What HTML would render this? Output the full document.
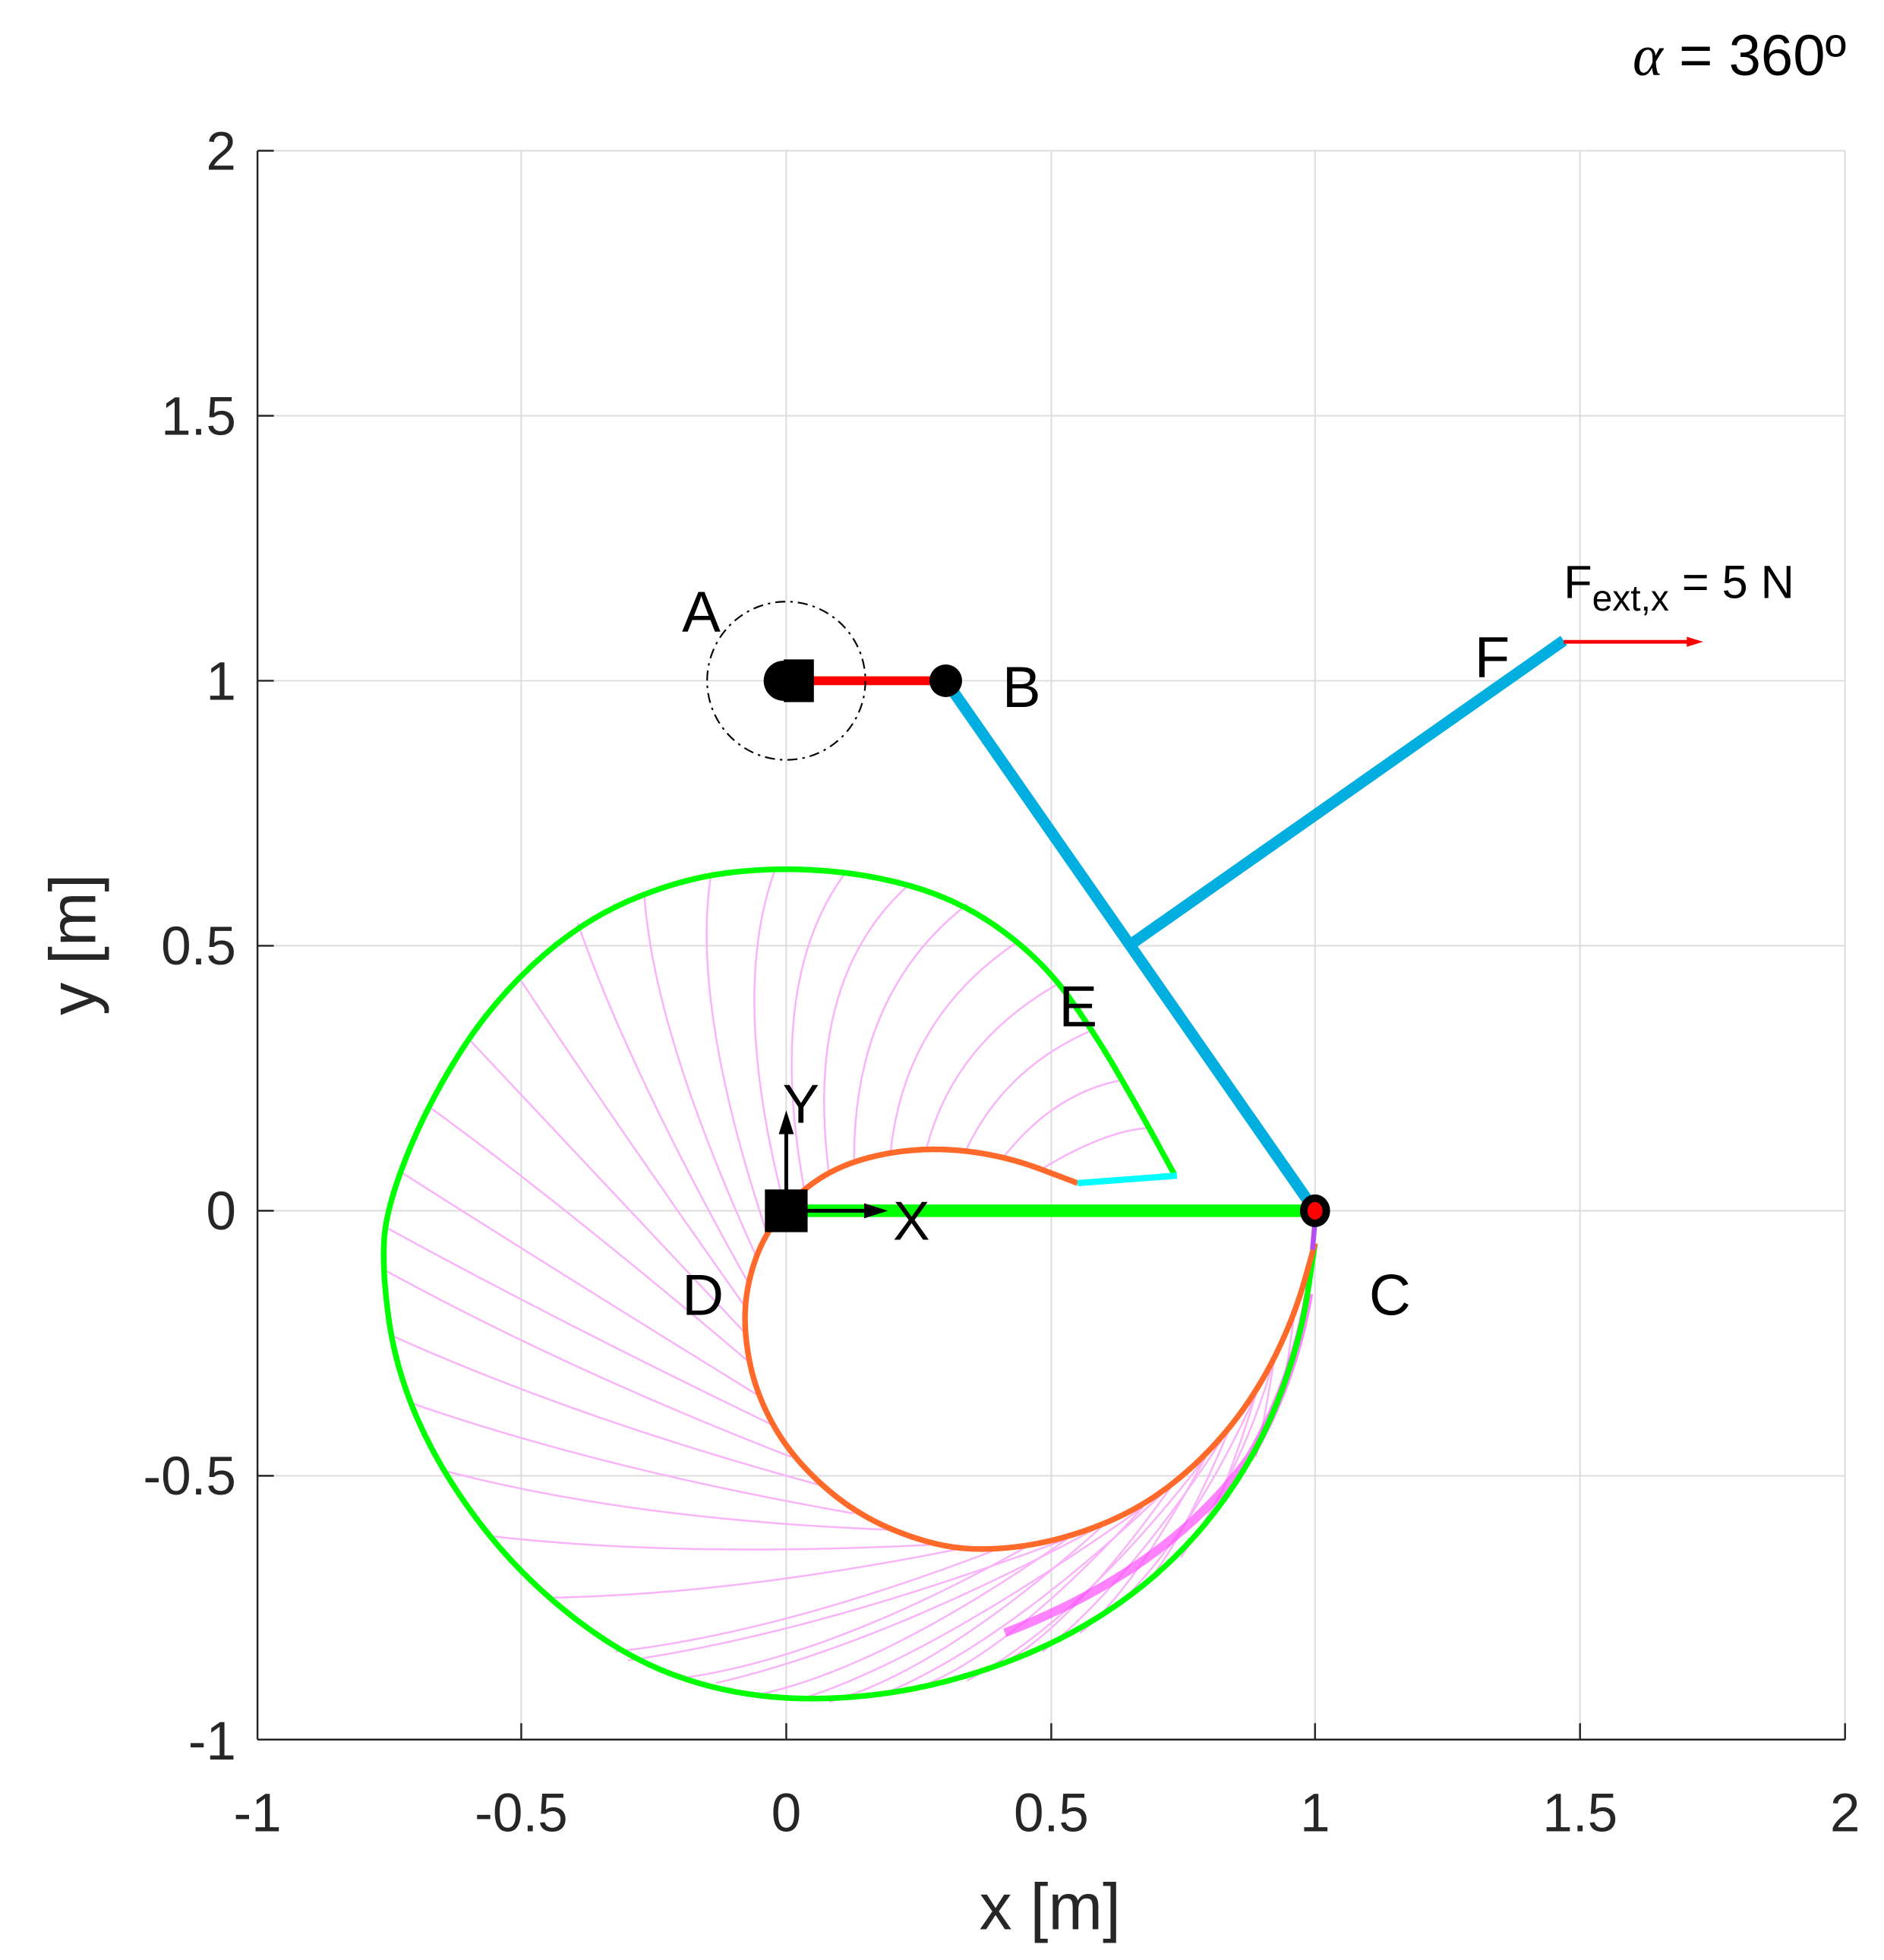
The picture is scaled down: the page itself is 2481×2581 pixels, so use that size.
<!DOCTYPE html>
<html><head><meta charset="utf-8"><style>html,body{margin:0;padding:0;background:#fff}svg{display:block}text{font-family:"Liberation Sans",Arial,sans-serif}</style></head>
<body>
<svg width="2481" height="2581" viewBox="0 0 1500 1560.5" xmlns="http://www.w3.org/2000/svg">
<rect width="1500" height="1561" fill="#fff"/>
<g stroke="#dcdcdc" stroke-width="1.2">
<line x1="415" y1="120" x2="415" y2="1385"/><line x1="626" y1="120" x2="626" y2="1385"/><line x1="837" y1="120" x2="837" y2="1385"/><line x1="1047" y1="120" x2="1047" y2="1385"/><line x1="1258" y1="120" x2="1258" y2="1385"/><line x1="1469" y1="120" x2="1469" y2="1385"/>
<line x1="205" y1="120" x2="1469" y2="120"/><line x1="205" y1="331" x2="1469" y2="331"/><line x1="205" y1="542" x2="1469" y2="542"/><line x1="205" y1="753" x2="1469" y2="753"/><line x1="205" y1="964" x2="1469" y2="964"/><line x1="205" y1="1175" x2="1469" y2="1175"/>
</g>
<g stroke="#f9b4f9" stroke-width="1.5" fill="none">
<path d="M829,931 Q880,900 915,898"/>
<path d="M800,920 Q840,870 893,860"/>
<path d="M769,916 Q800,850 870,820"/>
<path d="M738,913 Q760,830 843,783"/>
<path d="M709,918 Q720,810 810,750"/>
<path d="M680,923 Q680,790 770,720"/>
<path d="M660,934 Q640,780 723,705"/>
<path d="M640,945 Q610,780 673,695"/>
<path d="M625,962 Q580,790 618,690"/>
<path d="M610,980 Q550,800 566,697"/>
<path d="M602,1000 Q520,820 513,712"/>
<path d="M595,1020 Q500,850 460,735"/>
<path d="M593,1040 Q480,880 413,778"/>
<path d="M592,1060 Q460,920 373,827"/>
<path d="M597,1085 Q450,960 340,880"/>
<path d="M602,1110 Q440,1010 319,933"/>
<path d="M616,1135 Q440,1050 307,977"/>
<path d="M630,1160 Q450,1090 304,1010"/>
<path d="M655,1183 Q460,1130 311,1063"/>
<path d="M680,1205 Q480,1170 327,1117"/>
<path d="M710,1218 Q500,1210 350,1170"/>
<path d="M740,1230 Q540,1240 390,1223"/>
<path d="M765,1233 Q580,1270 437,1272"/>
<path d="M790,1235 Q620,1300 490,1315"/>
<path d="M820,1230 Q660,1320 543,1336"/>
<path d="M850,1225 Q700,1330 600,1350"/>
<path d="M880,1213 Q750,1330 660,1355"/>
<path d="M910,1200 Q800,1320 727,1345"/>
<path d="M935,1180 Q850,1300 793,1327"/>
<path d="M960,1160 Q900,1270 860,1300"/>
<path d="M980,1135 Q940,1230 913,1260"/>
<path d="M1000,1110 Q975,1190 960,1213"/>
<path d="M1015,1080 Q1005,1140 1000,1160"/>
<path d="M1030,1050 Q1025,1085 1023,1100"/>
<path d="M850,1225 Q650,1300 500,1322"/>
<path d="M880,1213 Q700,1310 570,1340"/>
<path d="M910,1200 Q740,1320 640,1352"/>
<path d="M935,1180 Q800,1310 700,1350"/>
<path d="M960,1160 Q860,1290 770,1338"/>
<path d="M980,1135 Q900,1260 830,1315"/>
<path d="M1000,1110 Q950,1220 890,1278"/>
<path d="M1015,1080 Q990,1170 940,1240"/>
</g>
<path d="M800,1300 Q930,1250 995,1160 Q1030,1100 1042,1030" fill="none" stroke="#ff40ff" stroke-width="7" opacity="0.65"/>
<path fill="none" stroke="#00ff00" stroke-width="4.5" stroke-linejoin="round" d="M935,935 L920,907.5 Q905,880 887.5,850 Q870,820 850,792.5 Q830,765 800,742.5 Q770,720 735,708.5 Q700,697 659,693.5 Q618,690 579,695 Q540,700 500,717.5 Q460,735 425,767.5 Q390,800 365,840 Q340,880 324,920 Q308,960 306,985 Q304,1010 309.5,1050 Q315,1090 332.5,1130 Q350,1170 380,1210 Q410,1250 450,1282.5 Q490,1315 530,1331 Q570,1347 615,1351 Q660,1355 710,1347.5 Q760,1340 810,1320 Q860,1300 900,1270 Q940,1240 970,1200 Q1000,1160 1017.5,1115 Q1035,1070 1041,1030 L1047,990"/>
<path fill="none" stroke="#ff6a2a" stroke-width="4.5" stroke-linejoin="round" d="M858,942 L829,931 Q800,920 769,916.5 Q738,913 709,918 Q680,923 660,934 Q640,945 625,962.5 Q610,980 602.5,1000 Q595,1020 593.5,1040 Q592,1060 597,1085 Q602,1110 616,1135 Q630,1160 655,1182.5 Q680,1205 710,1217.5 Q740,1230 765,1232.5 Q790,1235 820,1230 Q850,1225 880,1212.5 Q910,1200 935,1180 Q960,1160 980,1135 Q1000,1110 1015,1080 Q1030,1050 1038.5,1020 L1047,990"/>
<line x1="858" y1="942" x2="937" y2="936" stroke="#00ffff" stroke-width="5"/>
<line x1="1047" y1="972" x2="1045" y2="995" stroke="#b44cf0" stroke-width="4"/>
<line x1="626" y1="964" x2="1047" y2="964" stroke="#00ff00" stroke-width="10"/>
<line x1="753" y1="542" x2="1047" y2="964" stroke="#00aee0" stroke-width="9"/>
<line x1="903" y1="750" x2="1245" y2="510" stroke="#00aee0" stroke-width="9"/>
<line x1="626" y1="542" x2="753" y2="542" stroke="#ff0000" stroke-width="7"/>
<circle cx="626" cy="542" r="63" fill="none" stroke="#000" stroke-width="1.3" stroke-dasharray="8,4,2,4"/>
<circle cx="624" cy="542" r="16" fill="#000"/><rect x="624" y="525" width="24" height="34" fill="#000"/>
<circle cx="753" cy="542" r="13" fill="#000"/>
<ellipse cx="1047" cy="964" rx="12" ry="13" fill="#000"/><ellipse cx="1047" cy="964" rx="6" ry="7" fill="#ff0000"/>
<rect x="609" y="947" width="34" height="34" fill="#000"/>
<line x1="626" y1="964" x2="626" y2="900" stroke="#000" stroke-width="3"/><polygon points="626,884 620,903 632,903" fill="#000"/>
<line x1="640" y1="964" x2="690" y2="964" stroke="#000" stroke-width="3"/><polygon points="707,964 688,958 688,970" fill="#000"/>
<line x1="1245" y1="511" x2="1345" y2="511" stroke="#ff0000" stroke-width="3"/><polygon points="1356,511 1343,507 1343,515" fill="#ff0000"/>
<g stroke="#262626" stroke-width="1.5">
<line x1="205" y1="120" x2="205" y2="1385"/><line x1="205" y1="1385" x2="1469" y2="1385"/>
<line x1="205" y1="120" x2="218" y2="120"/><line x1="205" y1="331" x2="218" y2="331"/><line x1="205" y1="542" x2="218" y2="542"/><line x1="205" y1="753" x2="218" y2="753"/><line x1="205" y1="964" x2="218" y2="964"/><line x1="205" y1="1175" x2="218" y2="1175"/>
<line x1="415" y1="1385" x2="415" y2="1372"/><line x1="626" y1="1385" x2="626" y2="1372"/><line x1="837" y1="1385" x2="837" y2="1372"/><line x1="1047" y1="1385" x2="1047" y2="1372"/><line x1="1258" y1="1385" x2="1258" y2="1372"/><line x1="1469" y1="1385" x2="1469" y2="1372"/>
</g>
<g font-size="43" fill="#262626" text-anchor="end">
<text x="188" y="135">2</text><text x="188" y="346">1.5</text><text x="188" y="557">1</text><text x="188" y="768">0.5</text><text x="188" y="979">0</text><text x="188" y="1190">-0.5</text><text x="188" y="1401">-1</text>
</g>
<g font-size="43" fill="#262626" text-anchor="middle">
<text x="205" y="1458">-1</text><text x="415" y="1458">-0.5</text><text x="626" y="1458">0</text><text x="837" y="1458">0.5</text><text x="1047" y="1458">1</text><text x="1258" y="1458">1.5</text><text x="1469" y="1458">2</text>
</g>
<text x="836" y="1536" font-size="52" fill="#262626" text-anchor="middle">x [m]</text>
<text transform="translate(76,752) rotate(-90)" font-size="52" fill="#262626" text-anchor="middle">y [m]</text>
<text x="1470" y="60" font-size="46" fill="#000" text-anchor="end"><tspan font-family="Liberation Serif" font-style="italic">α</tspan> = 360º</text>
<g font-size="46" fill="#000">
<text x="543" y="503">A</text><text x="798" y="563">B</text><text x="1090" y="1047">C</text><text x="543" y="1047">D</text><text x="843" y="817">E</text><text x="1174" y="539">F</text>
<text x="623" y="894" font-size="44">Y</text><text x="711" y="987" font-size="44">X</text>
<text x="1245" y="476" font-size="37">F<tspan font-size="29" dy="10">ext,x</tspan><tspan dy="-10"> = 5 N</tspan></text>
</g>
</svg>
</body></html>
